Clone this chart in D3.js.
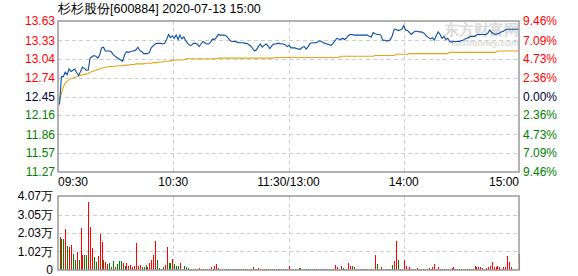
<!DOCTYPE html>
<html>
<head>
<meta charset="utf-8">
<script src="https://cdn.jsdelivr.net/npm/d3@7"></script>
<style>
  body { margin: 0; background: #fff; }
  svg { display: block; }
  text { font-family: "Liberation Sans", Arial, sans-serif; }
</style>
</head>
<body>
<div id="chart"></div>
<script>
// 杉杉股份 intraday, one value per minute (09:30-11:30, 13:00-15:00 -> 241 points)
var title = "杉杉股份[600884] 2020-07-13 15:00";
var timeLabels = ["09:30", "10:30", "11:30/13:00", "14:00", "15:00"];
var priceTicks = ["13.63", "13.33", "13.04", "12.74", "12.45", "12.16", "11.86", "11.57", "11.27"];
var pctTicks = ["9.46%", "7.09%", "4.73%", "2.36%", "0.00%", "2.36%", "4.73%", "7.09%", "9.46%"];
var volTicks = ["4.07", "3.05", "2.03", "1.02", "0"];

var price = [
  12.32,12.76,12.76,12.83,12.79,12.88,12.84,12.86,12.88,12.82,
  12.78,12.84,12.91,12.89,12.86,12.86,13.05,13.07,13.09,13.08,
  13.05,13.10,13.21,13.22,13.16,13.16,13.16,13.15,13.11,13.08,
  13.06,13.04,13.02,13.00,13.10,13.15,13.14,13.15,13.16,13.16,
  13.18,13.22,13.17,13.15,13.12,13.12,13.12,13.14,13.21,13.24,
  13.27,13.28,13.28,13.28,13.27,13.28,13.34,13.42,13.37,13.40,
  13.36,13.41,13.34,13.41,13.35,13.38,13.32,13.28,13.25,13.25,
  13.28,13.28,13.27,13.23,13.27,13.31,13.29,13.27,13.27,13.30,
  13.35,13.34,13.37,13.42,13.41,13.41,13.41,13.40,13.37,13.33,
  13.31,13.31,13.31,13.30,13.29,13.29,13.29,13.28,13.28,13.26,
  13.24,13.20,13.16,13.18,13.23,13.27,13.22,13.25,13.27,13.24,
  13.20,13.24,13.27,13.27,13.28,13.28,13.27,13.27,13.26,13.23,
  13.25,13.21,13.21,13.21,13.20,13.19,13.19,13.22,13.23,13.19,
  13.23,13.28,13.29,13.29,13.29,13.30,13.32,13.31,13.29,13.28,
  13.27,13.26,13.25,13.28,13.32,13.36,13.35,13.34,13.36,13.34,
  13.36,13.40,13.42,13.42,13.41,13.41,13.41,13.41,13.41,13.41,
  13.41,13.41,13.39,13.38,13.45,13.43,13.42,13.42,13.41,13.33,
  13.33,13.32,13.32,13.34,13.40,13.50,13.50,13.48,13.49,13.50,
  13.56,13.49,13.48,13.45,13.42,13.45,13.47,13.47,13.46,13.46,
  13.45,13.43,13.39,13.37,13.35,13.37,13.33,13.40,13.46,13.42,
  13.36,13.39,13.34,13.36,13.31,13.30,13.31,13.31,13.31,13.31,
  13.32,13.33,13.35,13.36,13.37,13.39,13.39,13.39,13.41,13.42,
  13.42,13.42,13.42,13.42,13.44,13.49,13.45,13.43,13.42,13.43,
  13.44,13.46,13.47,13.49,13.50,13.50,13.50,13.50,13.50,13.50,
  13.50
];

var avgPrice = [
  12.38,12.50,12.60,12.66,12.69,12.71,12.73,12.74,12.75,12.76,
  12.77,12.78,12.79,12.80,12.80,12.81,12.83,12.84,12.85,12.86,
  12.87,12.88,12.89,12.90,12.91,12.91,12.92,12.92,12.92,12.92,
  12.93,12.93,12.93,12.93,12.94,12.94,12.94,12.95,12.95,12.95,
  12.96,12.96,12.96,12.96,12.96,12.97,12.97,12.97,12.97,12.98,
  12.98,12.98,12.99,12.99,12.99,13.00,13.00,13.00,13.01,13.01,
  13.02,13.02,13.02,13.02,13.02,13.02,13.04,13.04,13.04,13.04,
  13.04,13.04,13.04,13.04,13.04,13.04,13.04,13.04,13.04,13.04,
  13.04,13.04,13.04,13.05,13.05,13.05,13.05,13.05,13.05,13.05,
  13.05,13.05,13.05,13.05,13.05,13.05,13.05,13.05,13.05,13.05,
  13.05,13.05,13.05,13.05,13.05,13.05,13.05,13.05,13.05,13.05,
  13.05,13.05,13.05,13.06,13.06,13.06,13.06,13.06,13.06,13.06,
  13.06,13.06,13.06,13.06,13.06,13.06,13.06,13.06,13.06,13.06,
  13.06,13.06,13.06,13.06,13.06,13.06,13.06,13.06,13.06,13.06,
  13.06,13.06,13.06,13.06,13.06,13.06,13.06,13.08,13.08,13.08,
  13.08,13.08,13.08,13.08,13.08,13.08,13.08,13.08,13.08,13.08,
  13.08,13.08,13.08,13.08,13.08,13.09,13.09,13.09,13.09,13.09,
  13.09,13.09,13.09,13.09,13.09,13.09,13.11,13.11,13.11,13.11,
  13.11,13.11,13.11,13.12,13.12,13.12,13.12,13.12,13.12,13.12,
  13.12,13.12,13.12,13.12,13.12,13.12,13.12,13.12,13.12,13.12,
  13.12,13.12,13.12,13.12,13.14,13.14,13.14,13.14,13.14,13.14,
  13.14,13.14,13.14,13.14,13.14,13.14,13.14,13.14,13.14,13.14,
  13.14,13.14,13.14,13.14,13.14,13.14,13.14,13.14,13.14,13.16,
  13.16,13.16,13.16,13.16,13.16,13.16,13.16,13.16,13.16,13.16,
  13.16
];

// volume in 万 (10k shares)
var volume = [
  1.81,1.70,1.70,2.25,1.32,1.26,1.37,0.88,0.55,0.99,
  0.55,2.31,0.82,0.82,0.82,3.74,2.36,1.21,0.71,0.44,
  0.77,1.98,1.54,0.55,0.44,0.33,0.38,0.16,0.49,0.16,
  0.33,0.49,0.49,0.38,0.22,0.38,0.22,0.27,0.16,0.22,
  1.48,0.22,0.27,0.16,0.16,0.27,0.16,0.38,0.55,0.82,
  1.59,0.55,0.11,0.05,0.16,0.27,1.26,0.38,0.38,0.60,
  0.33,0.22,0.22,0.38,0.05,0.22,0.16,0.11,0.05,0.05,
  0.05,0.05,0.05,0.11,0.05,0.05,0.05,0.05,0.05,0.16,
  0.05,0.22,0.33,0.11,0.05,0.05,0.05,0.05,0.05,0.05,
  0.05,0.05,0.05,0.05,0.05,0.05,0.05,0.05,0.05,0.05,
  0.05,0.16,0.05,0.05,0.11,0.05,0.05,0.05,0.05,0.05,
  0.05,0.05,0.05,0.05,0.05,0.05,0.05,0.05,0.05,0.05,
  0.22,0.05,0.05,0.05,0.05,0.11,0.11,0.05,0.05,0.05,
  0.05,0.05,0.05,0.05,0.05,0.05,0.05,0.05,0.05,0.05,
  0.05,0.05,0.05,0.05,0.27,0.16,0.05,0.22,0.11,0.05,
  0.05,0.38,0.22,0.22,0.16,0.05,0.05,0.05,0.05,0.05,
  0.05,0.05,0.05,0.05,0.05,0.82,0.33,0.05,0.16,0.05,
  0.05,0.05,0.05,0.05,0.27,0.49,1.59,0.55,0.05,0.05,
  0.55,0.22,0.05,0.16,0.05,0.05,0.05,0.11,0.05,0.05,
  0.05,0.05,0.05,0.11,0.05,0.16,0.33,0.05,0.16,0.05,
  0.05,0.05,0.05,0.05,0.05,0.11,0.16,0.05,0.05,0.05,
  0.05,0.05,0.05,0.05,0.05,0.05,0.05,0.22,0.16,0.16,
  0.16,0.11,0.05,0.11,0.16,0.22,0.44,0.16,0.16,0.22,
  0.16,0.05,0.16,0.16,0.77,0.44,0.16,0.05,0.00,0.00,
  0.88
];
// r = up minute, g = down minute
var volDir = (
  "rggrgrrggr" + "grrggrrrgg" + "rrrgrrgggr" + "gggrgrrrrr" +
  "rrrgggrrrr" + "rggrgrrggr" + "gggrgggg" + "rr" + "ggrrrggg" + "rr" +
  "grrgrrgggg" + "grrrrgggrg" + "grgrrrrrrr" + "grgggrgrrr" +
  "rrgrggrrgg" + "grgrrrgrrg" + "rgrgrrrrgr" + "rrrgrgrgrr" +
  "rgrgrrggrr" + "grgrgrrgrr" + "rrrrrrgrgr" + "rrrrrrrrrr" +
  "rgrgrrrrrg" + "gggrrrrrrr" + "r"
).split("");

var W = 578, H = 276;
var left = 58, right = 519;
var priceTop = 21, priceBottom = 172;
var volTop = 196, volBottom = 270;
var gridColor = "#cdcdcd", borderColor = "#999";
var red = "#ff0000", green = "#008000", dark = "#000033";

var svg = d3.select("#chart").append("svg")
  .attr("width", W)
  .attr("height", H);

var x = d3.scaleLinear().domain([0, 240]).range([59.5, 518.5]);
var yPrice = d3.scaleLinear().domain([11.27, 13.63]).range([priceBottom, priceTop]);
var yVol = d3.scaleLinear().domain([0, 4.07]).range([volBottom, volTop]);

// title
svg.append("text")
  .attr("x", left)
  .attr("y", 13)
  .attr("font-size", "12.5px")
  .attr("font-family", "'Noto Sans CJK SC', 'Liberation Sans', sans-serif")
  .attr("fill", "#000")
  .text(title);

// watermark
var wm = svg.append("g").attr("opacity", 0.55);
wm.append("text")
  .attr("x", 519).attr("y", 35)
  .attr("text-anchor", "end")
  .attr("font-size", "15px")
  .attr("font-weight", "bold")
  .attr("font-family", "'Noto Sans CJK SC', sans-serif")
  .attr("fill", "#bdbdbd")
  .text("东方财富网");
wm.append("text")
  .attr("x", 519).attr("y", 46)
  .attr("text-anchor", "end")
  .attr("font-size", "9px")
  .attr("font-weight", "bold")
  .attr("font-style", "italic")
  .attr("fill", "#bdbdbd")
  .text("eastmoney.com");

// grid helpers
var quarters = [1, 2, 3].map(function(k) { return left + (right - left) * k / 4; });

function grid(g, top, bottom, ys) {
  g.selectAll("line.h").data(ys).enter().append("line")
    .attr("x1", left).attr("x2", right)
    .attr("y1", function(d) { return d; }).attr("y2", function(d) { return d; })
    .attr("stroke", gridColor).attr("stroke-dasharray", "4,3");
  g.selectAll("line.v").data(quarters).enter().append("line")
    .attr("x1", function(d) { return Math.round(d) + 0.5; })
    .attr("x2", function(d) { return Math.round(d) + 0.5; })
    .attr("y1", top).attr("y2", bottom)
    .attr("stroke", gridColor).attr("stroke-dasharray", "4,3");
}

var pg = svg.append("g");
grid(pg, priceTop, priceBottom,
  priceTicks.slice(1, -1).map(function(t) { return Math.round(yPrice(+t)) + 0.5; }));

var vg = svg.append("g");
grid(vg, volTop, volBottom,
  volTicks.slice(1, -1).map(function(t) { return Math.round(yVol(+t)) + 0.5; }));

// price axis labels
function tickColor(i) { return i < 4 ? red : (i === 4 ? dark : green); }

svg.append("g").selectAll("text").data(priceTicks).enter().append("text")
  .attr("x", 55)
  .attr("y", function(d) { return yPrice(+d); })
  .attr("dy", "0.36em")
  .attr("text-anchor", "end")
  .attr("font-size", "12px")
  .attr("fill", function(d, i) { return tickColor(i); })
  .text(function(d) { return d; });

svg.append("g").selectAll("text").data(pctTicks).enter().append("text")
  .attr("x", 523)
  .attr("y", function(d, i) { return yPrice(+priceTicks[i]); })
  .attr("dy", "0.36em")
  .attr("font-size", "12px")
  .attr("fill", function(d, i) { return tickColor(i); })
  .text(function(d) { return d; });

// volume axis labels
svg.append("g").selectAll("text").data(volTicks).enter().append("text")
  .attr("x", 53)
  .attr("y", function(d) { return yVol(+d); })
  .attr("dy", "0.36em")
  .attr("text-anchor", "end")
  .attr("font-size", "12px")
  .attr("font-family", "'Liberation Sans', 'Noto Sans CJK SC', sans-serif")
  .attr("fill", "#000")
  .text(function(d) { return d === "0" ? d : d + "万"; });

// time labels
var timeX = [left].concat(quarters).concat([right]);
svg.append("g").selectAll("text").data(timeLabels).enter().append("text")
  .attr("x", function(d, i) { return timeX[i]; })
  .attr("y", 186)
  .attr("text-anchor", function(d, i) { return i === 0 ? "start" : (i === 4 ? "end" : "middle"); })
  .attr("font-size", "12px")
  .attr("fill", "#000")
  .text(function(d) { return d; });

// volume bars (pixel-snapped, 1px wide)
svg.append("g").attr("shape-rendering", "crispEdges")
  .selectAll("rect").data(volume).enter().append("rect")
  .attr("x", function(d, i) { return Math.round(x(i)); })
  .attr("y", function(d) { return Math.min(Math.round(yVol(d)), volBottom - 1); })
  .attr("width", 1)
  .attr("height", function(d) { return d > 0 ? volBottom - Math.min(Math.round(yVol(d)), volBottom - 1) : 0; })
  .attr("fill", function(d, i) { return volDir[i] === "g" ? green : red; });

// price + average lines
var line = d3.line()
  .x(function(d, i) { return x(i); })
  .y(function(d) { return yPrice(d); });

svg.append("path")
  .datum(avgPrice)
  .attr("d", line)
  .attr("fill", "none")
  .attr("stroke", "#e3a417")
  .attr("stroke-width", 1.1);

svg.append("path")
  .datum(price)
  .attr("d", line)
  .attr("fill", "none")
  .attr("stroke", "#0a4ea3")
  .attr("stroke-width", 1.1);

// frames
[[priceTop, priceBottom], [volTop, volBottom]].forEach(function(r) {
  svg.append("rect")
    .attr("x", left).attr("y", r[0])
    .attr("width", right - left).attr("height", r[1] - r[0])
    .attr("fill", "none")
    .attr("stroke", borderColor)
    .attr("stroke-width", 1.5);
});
</script>
</body>
</html>
